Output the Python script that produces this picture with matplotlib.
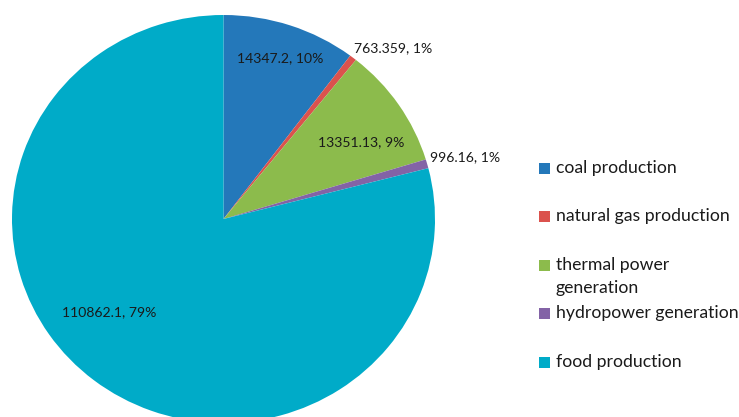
import numpy as np
import matplotlib.pyplot as plt
from matplotlib.patches import Rectangle

# data
categories = ["coal production", "natural gas production", "thermal power\ngeneration",
              "hydropower generation", "food production"]
values = [14347.2, 763.359, 13351.13, 996.16, 110862.1]
value_labels = ["14347.2", "763.359", "13351.13", "996.16", "110862.1"]
percents = ["10%", "1%", "9%", "1%", "79%"]
colors = ["#2478BA", "#DB524D", "#8CBB4C", "#8363A6", "#00ABC8"]

plt.rcParams['font.family'] = ['Lato', 'DejaVu Sans']

W, H = 739, 417
# the original pie is a little wider than tall
rx, ry = 211.5, 204.0
sy = rx / ry

fig = plt.figure(figsize=(W / 100, H / 100), dpi=100)
ax = fig.add_axes([0, 0, 1, 1])

cx, cy = 223.5, (H - 219) * sy
wedges, _ = ax.pie(values, colors=colors, startangle=90, counterclock=False,
                   center=(cx, cy), radius=rx, frame=True,
                   wedgeprops=dict(linewidth=0))
ax.set_aspect('auto')
ax.set_xlim(0, W)
ax.set_ylim(0, H * sy)
ax.axis('off')

# label placement: (radius fraction, angle offset from wedge middle, ha)
label_pos = [(0.83, -0.3, 'center'), (1.04, 1.4, 'left'), (0.753, -4.1, 'center'),
             (1.022, 1.6, 'left'), (0.706, -12.0, 'center')]
for w, v, p, (rf, da, ha) in zip(wedges, value_labels, percents, label_pos):
    mid = np.deg2rad((w.theta1 + w.theta2) / 2 + da)
    x = cx + rf * rx * np.cos(mid)
    y = cy + rf * rx * np.sin(mid)
    ax.text(x, y, f"{v}, {p}", ha=ha, va='center', fontsize=10.1, color='#1a1a1a')

# legend drawn by hand (Excel style, marker on the first line)
leg_y = [168, 216, 265, 313, 362]   # pixels from top
line_gap = 23
for lab, c, y in zip(categories, colors, leg_y):
    fy = 1 - y / H
    fig.patches.append(Rectangle((539 / W, fy - 5.5 / H), 11 / W, 11 / H, color=c, lw=0,
                                 transform=fig.transFigure, figure=fig))
    for i, line in enumerate(lab.split("\n")):
        fig.text(556 / W, 1 - (y + i * line_gap) / H, line, ha='left', va='center',
                 fontsize=12.7, color='#1a1a1a')

fig.savefig("out.png", dpi=100)
